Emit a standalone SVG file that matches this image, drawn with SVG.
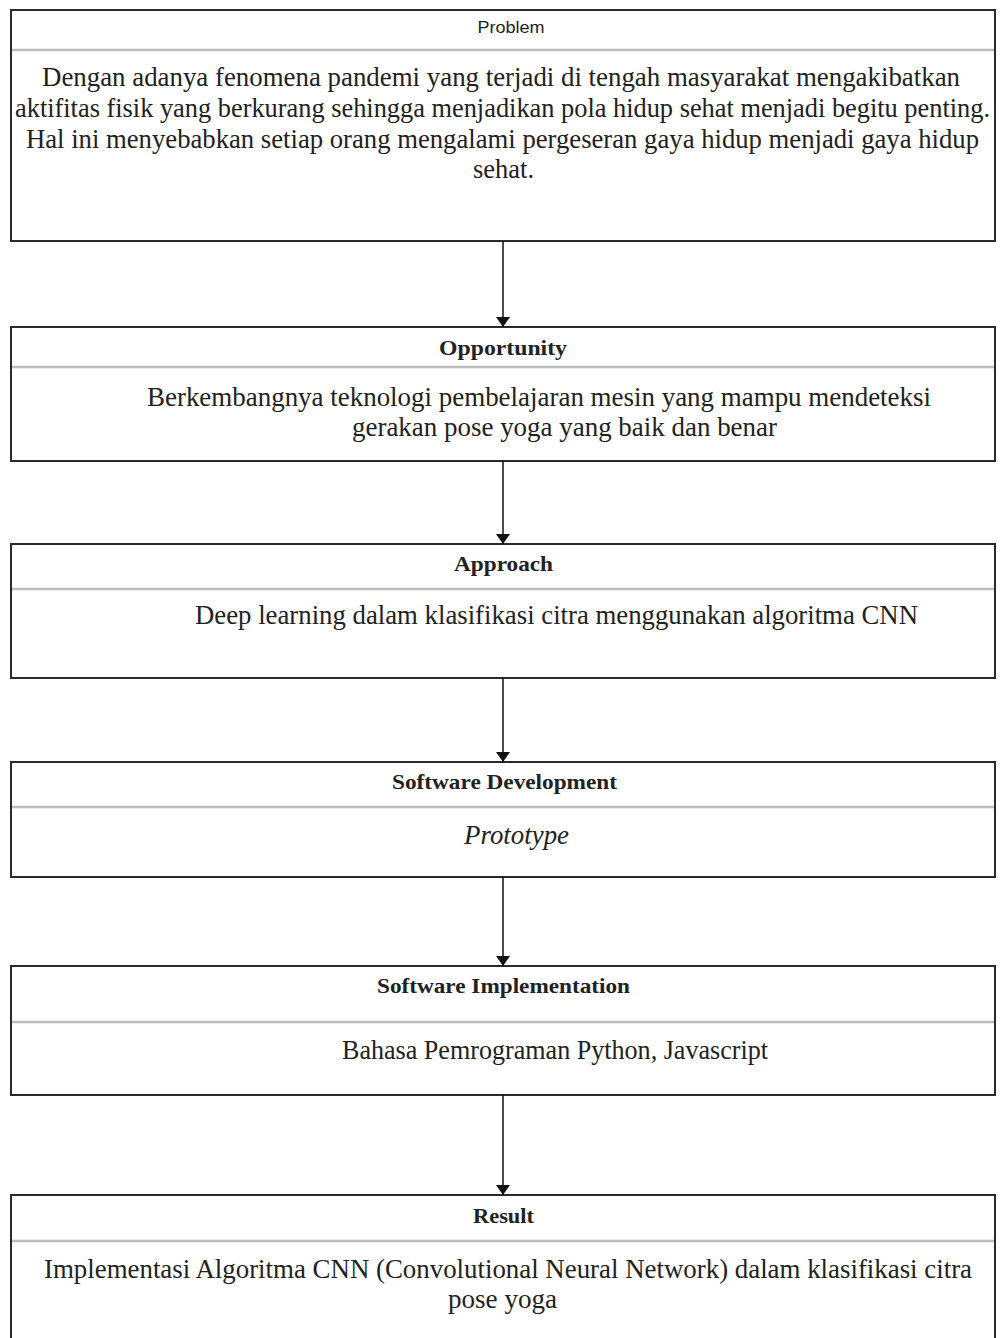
<svg xmlns="http://www.w3.org/2000/svg" width="1000" height="1338" viewBox="0 0 1000 1338">
<style>
.box{fill:#fff;stroke:#2a2a2a;stroke-width:2}
.div{stroke:#bdbdbd;stroke-width:2.5}
.t{font-family:"Liberation Serif","Times New Roman",serif;font-size:27px;fill:#222}
.h{font-family:"Liberation Serif","Times New Roman",serif;font-size:22px;font-weight:bold;fill:#222}
.ps{font-family:"Liberation Sans",Arial,sans-serif;font-size:17px;fill:#222}
.c{stroke:#111;stroke-width:1.5;fill:none}
</style>
<defs>
<marker id="ah" viewBox="0 0 10 14" refX="10" refY="7" markerWidth="10" markerHeight="14" markerUnits="userSpaceOnUse" orient="auto">
<path d="M0,0 L10,7 L0,14 Z" fill="#111"/>
</marker>
</defs>
<rect width="1000" height="1338" fill="#fff"/>
<g id="problem">
<rect class="box" x="11" y="10" width="984" height="231"/>
<line class="div" x1="12" y1="50" x2="994" y2="50"/>
<text class="ps" x="511" y="33" text-anchor="middle" textLength="67" lengthAdjust="spacingAndGlyphs">Problem</text>
<text class="t" x="42" y="86" textLength="918" lengthAdjust="spacingAndGlyphs">Dengan adanya fenomena pandemi yang terjadi di tengah masyarakat mengakibatkan</text>
<text class="t" x="15" y="117" textLength="975" lengthAdjust="spacingAndGlyphs">aktifitas fisik yang berkurang sehingga menjadikan pola hidup sehat menjadi begitu penting.</text>
<text class="t" x="26" y="148" textLength="953" lengthAdjust="spacingAndGlyphs">Hal ini menyebabkan setiap orang mengalami pergeseran gaya hidup menjadi gaya hidup</text>
<text class="t" x="473" y="178" textLength="61" lengthAdjust="spacingAndGlyphs">sehat.</text>
</g>
<g id="opportunity">
<rect class="box" x="11" y="327" width="984" height="134"/>
<line class="div" x1="12" y1="367" x2="994" y2="367"/>
<text class="h" x="439" y="355" textLength="128" lengthAdjust="spacingAndGlyphs">Opportunity</text>
<text class="t" x="147" y="406" textLength="784" lengthAdjust="spacingAndGlyphs">Berkembangnya teknologi pembelajaran mesin yang mampu mendeteksi</text>
<text class="t" x="352" y="436" textLength="425" lengthAdjust="spacingAndGlyphs">gerakan pose yoga yang baik dan benar</text>
</g>
<g id="approach">
<rect class="box" x="11" y="544" width="984" height="134"/>
<line class="div" x1="12" y1="589" x2="994" y2="589"/>
<text class="h" x="454" y="571" textLength="99" lengthAdjust="spacingAndGlyphs">Approach</text>
<text class="t" x="195" y="624" textLength="723" lengthAdjust="spacingAndGlyphs">Deep learning dalam klasifikasi citra menggunakan algoritma CNN</text>
</g>
<g id="software-development">
<rect class="box" x="11" y="762" width="984" height="115"/>
<line class="div" x1="12" y1="807" x2="994" y2="807"/>
<text class="h" x="392" y="789" textLength="225" lengthAdjust="spacingAndGlyphs">Software Development</text>
<text class="t" x="464" y="844" font-style="italic" textLength="105" lengthAdjust="spacingAndGlyphs">Prototype</text>
</g>
<g id="software-implementation">
<rect class="box" x="11" y="966" width="984" height="129"/>
<line class="div" x1="12" y1="1022" x2="994" y2="1022"/>
<text class="h" x="377" y="993" textLength="253" lengthAdjust="spacingAndGlyphs">Software Implementation</text>
<text class="t" x="342" y="1059" textLength="426" lengthAdjust="spacingAndGlyphs">Bahasa Pemrograman Python, Javascript</text>
</g>
<g id="result">
<rect class="box" x="11" y="1195" width="984" height="160"/>
<line class="div" x1="12" y1="1241" x2="994" y2="1241"/>
<text class="h" x="473" y="1223" textLength="61" lengthAdjust="spacingAndGlyphs">Result</text>
<text class="t" x="44" y="1278" textLength="928" lengthAdjust="spacingAndGlyphs">Implementasi Algoritma CNN (Convolutional Neural Network) dalam klasifikasi citra</text>
<text class="t" x="448" y="1308" textLength="109" lengthAdjust="spacingAndGlyphs">pose yoga</text>
</g>
<g id="connectors">
<line class="c" x1="503" y1="241" x2="503" y2="327" marker-end="url(#ah)"/>
<line class="c" x1="503" y1="461" x2="503" y2="544" marker-end="url(#ah)"/>
<line class="c" x1="503" y1="678" x2="503" y2="762" marker-end="url(#ah)"/>
<line class="c" x1="503" y1="877" x2="503" y2="966" marker-end="url(#ah)"/>
<line class="c" x1="503" y1="1095" x2="503" y2="1195" marker-end="url(#ah)"/>
</g>
</svg>
